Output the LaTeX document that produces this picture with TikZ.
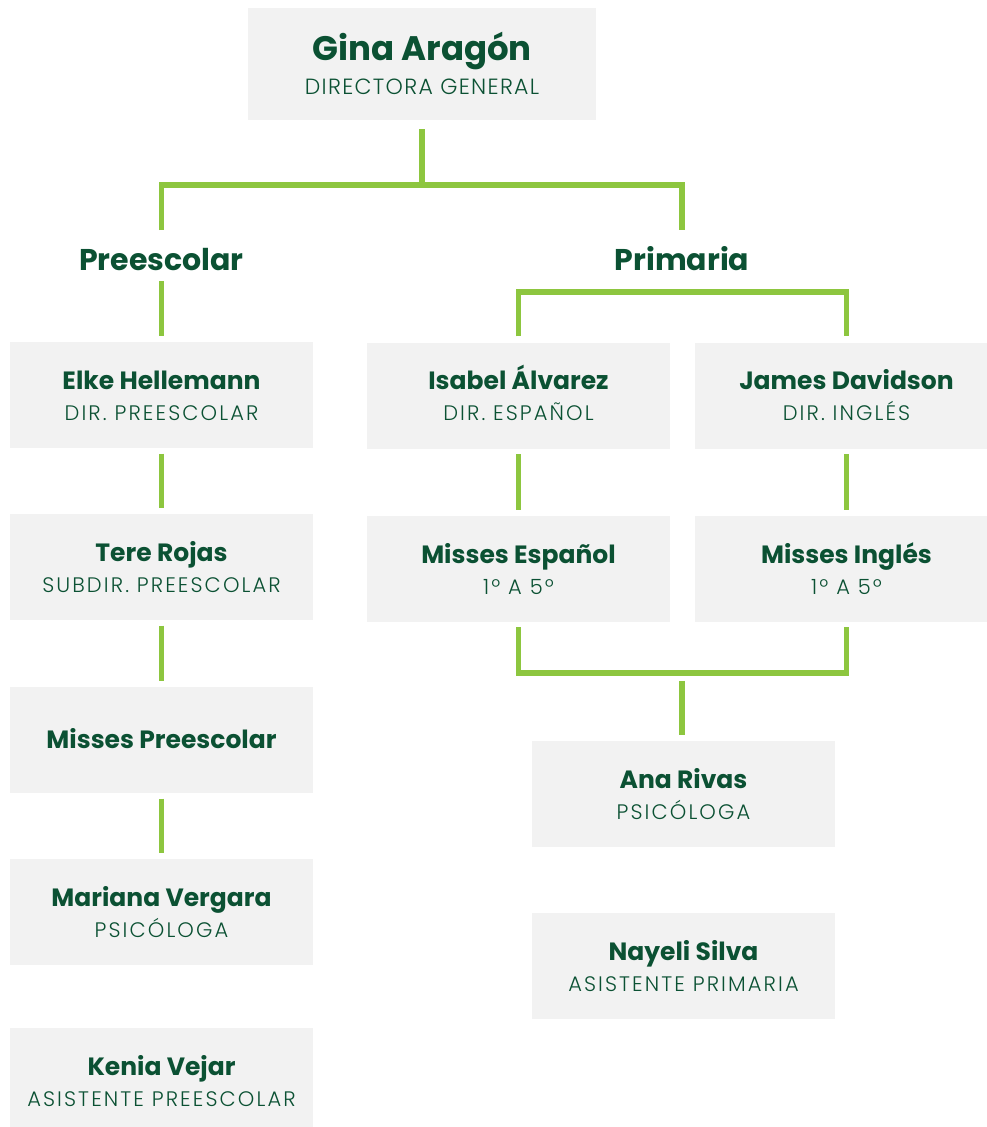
\documentclass[tikz,border=0pt]{standalone}
\usepackage{fontspec}
\setmainfont{Poppins}
\newfontfamily\ligera{Poppins}[UprightFont={* Light},LetterSpace=10]
\usetikzlibrary{calc,positioning}
\definecolor{verde}{HTML}{8DC63F}
\definecolor{pino}{HTML}{0B5133}
\definecolor{gris}{HTML}{F2F2F2}

\tikzset{
  caja/.style={rectangle, fill=gris, minimum width=303pt, minimum height=106pt, inner sep=0pt},
  nombre/.style={anchor=base, text=pino, font=\fontsize{25}{30}\selectfont\bfseries},
  cargo/.style={anchor=base, text=pino, font=\ligera\fontsize{21}{25}\selectfont},
  titulo/.style={anchor=base, text=pino, font=\fontsize{30}{36}\selectfont\bfseries},
  rama/.style={draw=verde, line width=5.5pt},
  enlace/.style={rama, shorten <=5.5pt, shorten >=5.5pt}
}

% caja con nombre y cargo
\newcommand\persona[5]{%
  \node (#1) [caja] at (#2,#3) {};
  \node (#1-n) [nombre] at ($(#1.center)+(0,-6)$) {#4};
  \node (#1-c) [cargo] at ($(#1.center)+(0,25)$) {#5};
}

\begin{document}
\begin{tikzpicture}[x=1pt,y=-1pt]
\useasboundingbox (0,0) rectangle (986,1127);

% direccion general
\node (gina) [caja, minimum width=348pt, minimum height=112pt] at (422,64) {};
\node (gina-n) [nombre, font=\fontsize{34}{40}\selectfont\bfseries] at (422,60) {Gina Aragón};
\node (gina-c) [cargo, font=\ligera\fontsize{22}{26}\selectfont\addfontfeature{LetterSpace=6}] at (422,94) {DIRECTORA GENERAL};

\node (pre) [titulo] at (161.5,270.7) {Preescolar};
\node (prim) [titulo] at (682,270.7) {Primaria};

\draw [rama] ($(gina.south)+(0,9)$) -- ($(gina.south)+(0,65)$);
\draw [rama] ($(pre.base)+(0,-40.7)$) |- ($(prim.base)+(0,-85.7)$) -- ($(prim.base)+(0,-40.7)$);

% preescolar
\persona{elke}{161.5}{395}{Elke Hellemann}{DIR. PREESCOLAR}
\persona{tere}{161.5}{567}{Tere Rojas}{SUBDIR. PREESCOLAR}
\node (mpre) [caja] at (161.5,740) {};
\node (mpre-n) [nombre] at ($(mpre.center)+(0,8)$) {Misses Preescolar};
\persona{mariana}{161.5}{912}{Mariana Vergara}{PSICÓLOGA}
\persona{kenia}{161.5}{1081}{Kenia Vejar}{ASISTENTE PREESCOLAR}

\draw [rama] ($(pre.base)+(0,10.3)$) -- ($(elke.north)+(0,-6)$);
\draw [enlace] (elke) -- (tere);
\draw [enlace] (tere) -- (mpre);
\draw [enlace] (mpre) -- (mariana);

% primaria
\persona{isabel}{518.5}{395.5}{Isabel Álvarez}{DIR. ESPAÑOL}
\persona{james}{846.5}{395.5}{James Davidson}{DIR. INGLÉS}
\persona{mesp}{518.5}{569}{Misses Español}{1º A 5º}
\persona{ming}{846.5}{569}{Misses Inglés}{1º A 5º}
\persona{ana}{683.5}{794}{Ana Rivas}{PSICÓLOGA}
\persona{nayeli}{683.5}{966}{Nayeli Silva}{ASISTENTE PRIMARIA}

\draw [rama] ($(isabel.north)+(0,-6)$) |- ($(prim.base)+(0,21.3)$) -| ($(james.north)+(0,-6)$);
\draw [enlace] (isabel) -- (mesp);
\draw [enlace] (james) -- (ming);
\draw [rama] ($(mesp.south)+(0,5)$) -- ++(0,46) -| ($(ming.south)+(0,5)$);
\coordinate (union) at ($(ana.north)+(-1.5,-68)$);
\draw [rama] ($(union)+(0,8)$) -- ($(ana.north)+(-1.5,-6)$);
\end{tikzpicture}
\end{document}
